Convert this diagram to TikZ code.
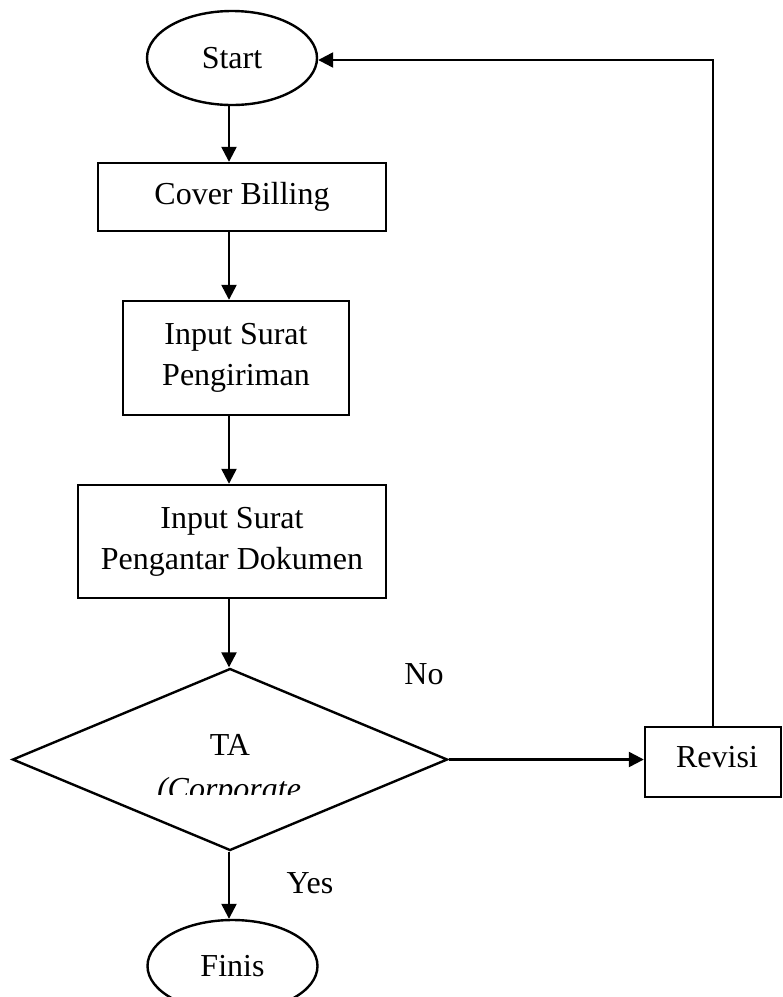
\documentclass[tikz,border=0pt]{standalone}
\usepackage{fontspec}
\setmainfont{Liberation Serif}
\usetikzlibrary{shapes.geometric,arrows.meta}

\tikzset{
  base/.style={draw=black, line width=2.4pt, inner sep=0pt, font=\fontsize{32}{41}\selectfont, align=center},
  terminal/.style={base, ellipse, minimum width=170pt, minimum height=94pt},
  process/.style={base, rectangle},
  decision/.style={base, diamond, minimum width=435pt, minimum height=182pt},
  flow/.style={line width=2.4pt, -{Triangle[length=15pt,width=15pt]}},
  caption/.style={font=\fontsize{32}{41}\selectfont, inner sep=0pt, anchor=base}
}

\begin{document}
\begin{tikzpicture}[x=1pt,y=-1pt]
\useasboundingbox (0,0) rectangle (783,997);

% vertical axis of the main flow
\coordinate (axis) at (229,0);

% terminals and process steps
\node[terminal] (start) at (232,58) {Start};
\node[process, minimum width=288pt, minimum height=68pt] (cover) at (242,197) {Cover Billing};
\node[process, minimum width=226pt, minimum height=114pt] (kirim) at (236,358) {Input Surat\\Pengiriman};
\node[process, minimum width=308pt, minimum height=113pt] (antar) at (232,541.5) {Input Surat\\Pengantar Dokumen};

% decision
\node[decision] (ta) at (230,759.5) {};
\begin{scope}
  \clip (120,720) rectangle (340,794);
  \node[caption] (talabel) at (230,755) {TA};
  \node[caption] (corp) at (229,799) {\textit{(Corporate}};
\end{scope}

\node[process, minimum width=136pt, minimum height=70pt] (revisi) at (713,762) {};
\node[caption] (revtext) at (717,767) {Revisi};

\node[terminal, minimum height=92pt] (finis) at (232.5,966) {Finis};

% branch labels
\node[caption] (no) at (424,684) {No};
\node[caption] (yes) at (310,893) {Yes};

% connectors
\draw[flow] (start.south -| axis) -- (cover.north -| axis);
\draw[flow] (cover.south -| axis) -- (kirim.north -| axis);
\draw[flow] (kirim.south -| axis) -- (antar.north -| axis);
\draw[flow] (antar.south -| axis) -- (ta.north -| axis);
\draw[flow] (ta.east) -- (revisi.west |- ta.east);
\draw[flow] (ta.south -| axis) -- (finis.north -| axis);
\coordinate (corner) at (713,60);
\draw[flow] (revisi.north) -- (corner) -- (corner -| start.east);
\end{tikzpicture}
\end{document}
